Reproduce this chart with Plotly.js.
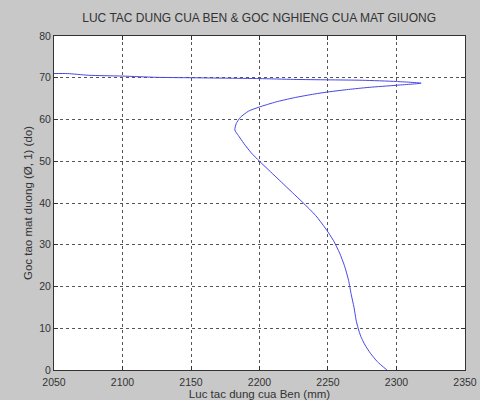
<!DOCTYPE html>
<html>
<head>
<meta charset="utf-8">
<script src="https://cdn.plot.ly/plotly-3.0.1.min.js"></script>
<style>html,body{margin:0;padding:0;background:#c8c8c8;}#chart{width:480px;height:400px;}</style>
</head>
<body>
<div id="chart"></div>
<script>
// Force on the bed (mm) vs. inclination angle of the bed surface (deg)
const lucTacDung = [2293, 2286, 2281, 2277, 2274, 2272, 2270.5, 2269, 2267, 2265, 2262, 2258.5, 2254, 2248, 2241, 2232, 2224, 2216, 2208, 2200, 2194, 2188.5, 2184.5, 2182, 2183, 2186, 2192, 2200, 2212, 2225, 2240, 2250, 2265, 2280, 2300, 2318, 2300, 2275, 2250, 2225, 2200, 2175, 2150, 2125, 2100, 2075, 2060, 2050];
const gocNghieng = [0, 2, 4, 6, 8, 10, 12, 15, 18, 21.5, 25, 28, 31, 34, 37, 40, 42.5, 45, 47.5, 50, 52, 54.3, 56.2, 57.5, 59, 60.5, 62, 63, 64.2, 65.2, 66.1, 66.6, 67.2, 67.7, 68.2, 68.7, 69.1, 69.4, 69.5, 69.6, 69.8, 69.9, 70, 70.1, 70.4, 70.6, 71, 71];
const xTicks = [2050, 2100, 2150, 2200, 2250, 2300, 2350];
const yTicks = [0, 10, 20, 30, 40, 50, 60, 70, 80];

const fam = 'Liberation Sans, Arial, sans-serif';
const tickFont = {family: fam, size: 10.5, color: '#333'};
const titleFont = {family: fam, size: 11.5, color: '#333'};
const axisCommon = {
  showgrid: true, gridcolor: '#555', griddash: 'dot', gridwidth: 1,
  showline: true, linecolor: '#333', linewidth: 1, mirror: 'ticks',
  ticks: 'inside', ticklen: 4, tickcolor: '#333',
  zeroline: false, tickfont: tickFont, ticklabeloverflow: 'allow'
};
Plotly.newPlot('chart', [{
  x: lucTacDung, y: gocNghieng, type: 'scatter', mode: 'lines',
  line: {color: '#4646e6', width: 1, shape: 'spline', smoothing: 0.6}, hoverinfo: 'none'
}], {
  width: 480, height: 400,
  paper_bgcolor: '#c8c8c8', plot_bgcolor: '#ffffff',
  margin: {l: 54, r: 15, t: 36, b: 30},
  showlegend: false,
  font: tickFont,
  title: {text: 'LUC TAC DUNG CUA BEN & GOC NGHIENG CUA MAT GIUONG', x: 0.54, xanchor: 'center', y: 0.955, yanchor: 'middle', font: {family: fam, size: 12, color: '#333'}},
  xaxis: Object.assign({}, axisCommon, {
    range: [2050, 2350.01], tickvals: xTicks, ticktext: xTicks.map(String),
    ticklabelstandoff: 2,
    title: {text: 'Luc tac dung cua Ben (mm)', standoff: 0, font: titleFont}
  }),
  yaxis: Object.assign({}, axisCommon, {
    range: [0, 80], tickvals: yTicks, ticktext: yTicks.map(String),
    title: {text: 'Goc tao mat duong (Ø, 1) (do)', standoff: 4, font: titleFont}
  })
}, {displayModeBar: false, staticPlot: true});
</script>
</body>
</html>
